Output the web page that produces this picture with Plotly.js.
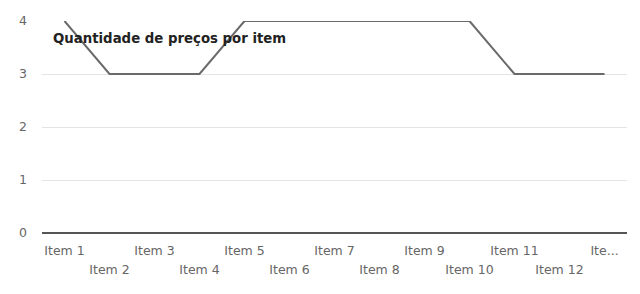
<!DOCTYPE html>
<html>
<head>
<meta charset="utf-8">
<script src="https://cdn.plot.ly/plotly-3.0.1.min.js"></script>
<style>html,body{margin:0;padding:0;background:#fff;}#chart{width:640px;height:294px;}</style>
</head>
<body>
<div id="chart"></div>
<script>
const categories = ["Item 1","Item 2","Item 3","Item 4","Item 5","Item 6","Item 7","Item 8","Item 9","Item 10","Item 11","Item 12","Item 13"];
const values = [4,3,3,3,4,4,4,4,4,4,3,3,3];
const tickLabels = ["Item 1","Item 2","Item 3","Item 4","Item 5","Item 6","Item 7","Item 8","Item 9","Item 10","Item 11","Item 12","Ite..."];
const yTicks = [0,1,2,3,4];
const chartTitle = "Quantidade de preços por item";

const idx = categories.map((c,i)=>i);
const oddVals = idx.filter(i=>i%2===0);
const evenVals = idx.filter(i=>i%2===1);

const trace = {
  x: idx, y: values, type: 'scatter', mode: 'lines',
  line: {color: '#6a6a6a', width: 2},
  cliponaxis: false, hoverinfo: 'skip', showlegend: false
};
const trace2 = {
  x: idx, y: values, xaxis: 'x2', type: 'scatter', mode: 'lines',
  line: {color: 'rgba(0,0,0,0)', width: 0}, hoverinfo: 'skip', showlegend: false
};

const tickFont = {family: 'DejaVu Sans, sans-serif', size: 12.5, color: '#666'};
const layout = {
  width: 640, height: 294,
  margin: {l: 42, r: 13, t: 21, b: 61},
  paper_bgcolor: '#fff', plot_bgcolor: '#fff',
  title: {
    text: '<b>' + chartTitle + '</b>',
    font: {family: 'DejaVu Sans, sans-serif', size: 13.3, color: '#222'},
    x: 53/640, xanchor: 'left', y: 1 - 38/294, yanchor: 'middle'
  },
  xaxis: {
    range: [-0.5, 12.5], tickvals: oddVals, ticktext: oddVals.map(i=>tickLabels[i]),
    showgrid: false, zeroline: false, showline: false, ticks: '',
    tickfont: tickFont, ticklabelstandoff: 8, fixedrange: true
  },
  xaxis2: {
    overlaying: 'x', side: 'bottom', anchor: 'y',
    range: [-0.5, 12.5], tickvals: evenVals, ticktext: evenVals.map(i=>tickLabels[i]),
    showgrid: false, zeroline: false, showline: false, ticks: '',
    tickfont: tickFont, ticklabelstandoff: 27, fixedrange: true
  },
  yaxis: {
    range: [0, 4], tickvals: yTicks, ticktext: yTicks.map(String),
    showgrid: true, gridcolor: '#e4e4e4', gridwidth: 1,
    zeroline: true, zerolinecolor: '#555', zerolinewidth: 1.5,
    showline: false, ticks: '', tickfont: tickFont, ticklabelstandoff: 14, fixedrange: true
  },
  showlegend: false
};
Plotly.newPlot('chart', [trace, trace2], layout, {displayModeBar: false, staticPlot: true});
</script>
</body>
</html>
